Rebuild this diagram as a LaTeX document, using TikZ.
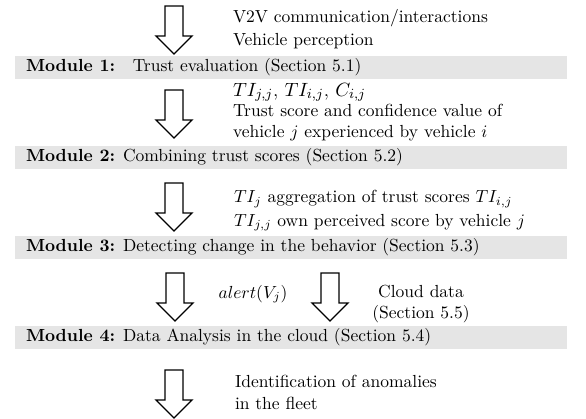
\documentclass[tikz,border=0pt]{standalone}
\usepackage{amsmath}
\begin{document}
\begin{tikzpicture}[x=0.5714pt,y=-0.5714pt,
  barfill/.style={fill=black!10},
  txt/.style={anchor=base west,inner sep=0pt,outer sep=0pt},
  ctxt/.style={anchor=base,inner sep=0pt,outer sep=0pt},
  modtxt/.style={anchor=base west,inner sep=0pt,outer sep=0pt},
  hollowarrow/.pic={\draw[line width=0.8pt,line join=miter,fill=white]
     (-9,0) -- (9,0) -- (9,30) -- (18,30) -- (0,48) -- (-18,30) -- (-9,30) -- cycle;}]
\useasboundingbox (0,0) rectangle (586,419);
% bars
\path[barfill] (15,56) rectangle (567,79);
\path[barfill] (15,146) rectangle (567,169);
\path[barfill] (15,236) rectangle (567,259);
\path[barfill] (15,326) rectangle (567,349);
\node[modtxt] (m1) at (26,71.5) {\textbf{Module 1:}\hspace{10pt}Trust evaluation (Section 5.1)};
\node[modtxt] (m2) at (26,161.5) {\textbf{Module 2:} Combining trust scores (Section 5.2)};
\node[modtxt] (m3) at (26,251.5) {\textbf{Module 3:} Detecting change in the behavior (Section 5.3)};
\node[modtxt] (m4) at (26,341.5) {\textbf{Module 4:} Data Analysis in the cloud (Section 5.4)};
% arrows
\pic at (174,6) {hollowarrow};
\pic at (174,90) {hollowarrow};
\pic at (174,183) {hollowarrow};
\pic at (175,273) {hollowarrow};
\pic at (330,273) {hollowarrow};
\pic at (174,370) {hollowarrow};
% texts
\node[txt] (t1a) at (233,23) {V2V communication/interactions};
\node[txt] (t1b) at (233,45) {Vehicle perception};
\node[txt] (t2a) at (233,96) {\fontsize{11}{13}\selectfont $TI_{j,j}$, $TI_{i,j}$, $C_{i,j}$};
\node[txt] (t2b) at (233,117) {Trust score and confidence value of};
\node[txt] (t2c) at (233,137) {vehicle $j$ experienced by vehicle $i$};
\node[txt] (t3a) at (234,203) {$TI_j$ aggregation of trust scores $TI_{i,j}$};
\node[txt] (t3b) at (234,226) {$TI_{j,j}$ own perceived score by vehicle $j$};
\node[ctxt] (t4a) at (253,298) {$alert(V_j)$};
\node[ctxt] (t4b) at (421,297) {Cloud data};
\node[ctxt] (t4c) at (421,318) {(Section 5.5)};
\node[txt] (t5a) at (235,387) {Identification of anomalies};
\node[txt] (t5b) at (235,409) {in the fleet};
\end{tikzpicture}
\end{document}
